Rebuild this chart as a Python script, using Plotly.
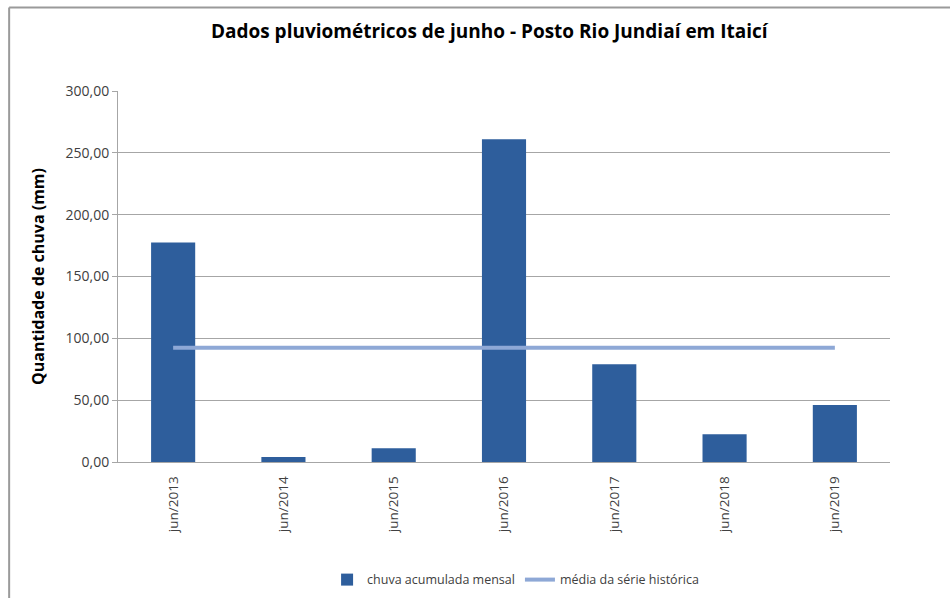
import plotly.graph_objects as go

categories = ["jun/2013", "jun/2014", "jun/2015", "jun/2016", "jun/2017", "jun/2018", "jun/2019"]
chuva = [177.5, 4.0, 11.2, 261.0, 79.0, 22.5, 46.0]
media = [92.3] * 7
y_ticks = [0, 50, 100, 150, 200, 250, 300]
y_tick_labels = ["0,00", "50,00", "100,00", "150,00", "200,00", "250,00", "300,00"]

FONT = "Open Sans"

fig = go.Figure()
fig.add_trace(go.Bar(
    x=categories, y=chuva, name="chuva acumulada mensal",
    marker=dict(color="#2E5E9C", line=dict(width=0)),
))
fig.add_trace(go.Scatter(
    x=categories, y=media, name="média da série histórica", mode="lines",
    line=dict(color="#8EA8D6", width=4),
))

fig.update_layout(
    width=950, height=598,
    paper_bgcolor="white", plot_bgcolor="white",
    margin=dict(l=118, r=60, t=91, b=136, autoexpand=False),
    bargap=0.6,
    font=dict(family=FONT, color="#404040"),
    title=dict(text="<b>Dados pluviométricos de junho - Posto Rio Jundiaí em Itaicí</b>",
               x=0.515, xanchor="center", y=0.947, yanchor="middle",
               font=dict(family=FONT, size=19, color="black")),
    showlegend=True,
    legend=dict(orientation="h", x=0.515, xanchor="center", y=-0.318, yanchor="middle",
                font=dict(family=FONT, size=12.5, color="#404040"), traceorder="normal",
                itemwidth=30),
    shapes=[
        dict(type="line", xref="paper", yref="paper", x0=-0.141, x1=1.2, y0=1.225, y1=1.225,
             line=dict(color="#9A9A9A", width=2)),
        dict(type="line", xref="paper", yref="paper", x0=-0.141, x1=-0.141, y0=1.225, y1=-0.4,
             line=dict(color="#9A9A9A", width=2)),
    ],
)
fig.update_yaxes(
    range=[0, 300], tickvals=y_ticks, ticktext=y_tick_labels,
    showgrid=True, gridcolor="#A6A6A6", gridwidth=1,
    showline=True, linecolor="#A6A6A6", linewidth=1,
    ticks="outside", ticklen=5, tickcolor="#A6A6A6",
    tickfont=dict(family=FONT, size=14, color="#404040"),
    title=dict(text="<b>Quantidade de chuva (mm)</b>", standoff=16,
               font=dict(family=FONT, size=16, color="black")),
    zeroline=False, automargin=False,
)
fig.update_xaxes(
    showline=True, linecolor="#A6A6A6", linewidth=1,
    tickangle=-90, tickfont=dict(family=FONT, size=13.5, color="#404040"),
    ticks="", ticklabelstandoff=8, automargin=False,
)

fig.write_html("out.html")
